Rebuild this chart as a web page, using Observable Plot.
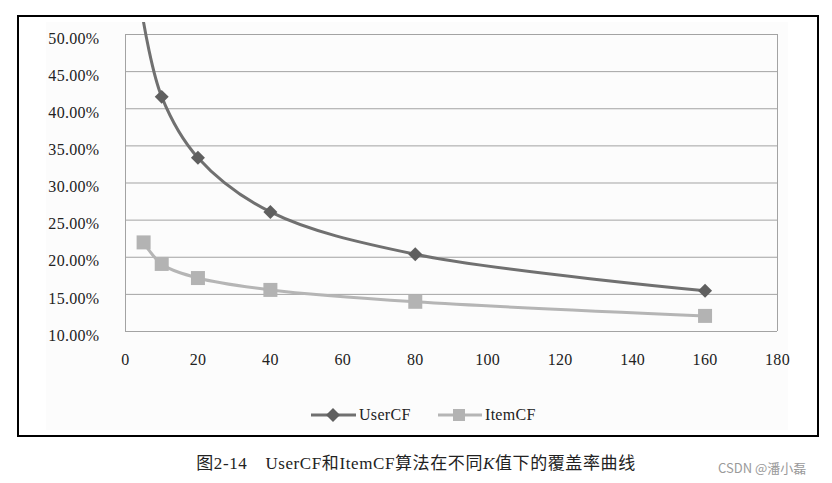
<!DOCTYPE html>
<html><head><meta charset="utf-8">
<script src="https://cdn.jsdelivr.net/npm/d3@7"></script>
<script src="https://cdn.jsdelivr.net/npm/@observablehq/plot@0.6"></script>
<style>
body{margin:0;background:#fff;width:832px;height:483px;position:relative;overflow:hidden;font-family:"Liberation Serif","Times New Roman",serif;}
#frame{position:absolute;left:17px;top:15px;width:798px;height:418px;border:2px solid #000;}
#area{position:absolute;left:46px;top:22px;width:742px;height:408px;background:#fcfcfc;}
#chart{position:absolute;left:0;top:0;width:770px;}
#chart svg{display:block;overflow:hidden;max-width:none !important;width:770px;height:363px;}
#legend{position:absolute;left:0;top:363px;width:742px;height:45px;font-size:16px;color:#222;}
.lg{position:absolute;top:19px;display:flex;align-items:center;height:22px;letter-spacing:0.3px;}
#caption{position:absolute;left:0;width:832px;top:449px;text-align:center;font-size:17px;letter-spacing:0.6px;color:#222;font-family:"Liberation Serif","Noto Sans CJK SC",serif;}
#wm{position:absolute;left:718px;top:458px;font-family:"Noto Sans CJK SC","DejaVu Sans",sans-serif;font-size:13px;color:#9a9a9a;}
</style></head>
<body>
<div id="frame"></div>
<div id="area">
<div id="legend">
 <div class="lg" style="left:265px"><svg width="46" height="22"><line x1="0" x2="45" y1="11" y2="11" stroke="#707070" stroke-width="3"/><path d="M22,4L29,11L22,18L15,11Z" fill="#5f5f5f"/></svg><span style="margin-left:2px">UserCF</span></div>
 <div class="lg" style="left:392px"><svg width="46" height="22"><line x1="0" x2="44" y1="11" y2="11" stroke="#b5b5b5" stroke-width="3"/><rect x="15" y="5" width="12" height="12" fill="#b3b3b3"/></svg><span style="margin-left:1px">ItemCF</span></div>
</div>
<div id="chart"></div>
</div>
<div id="caption">图2-14<span style="display:inline-block;width:18px"></span>UserCF和ItemCF算法在不同<i>K</i>值下的覆盖率曲线</div>
<div id="wm">CSDN @潘小磊</div>
<script>
const kValues = [5, 10, 20, 40, 80, 160];
const userCF = [0.516, 0.416, 0.334, 0.261, 0.204, 0.155];
const itemCF = [0.220, 0.191, 0.172, 0.156, 0.140, 0.121];
const yTicks = [0.10, 0.15, 0.20, 0.25, 0.30, 0.35, 0.40, 0.45, 0.50];
const xTicks = [0, 20, 40, 60, 80, 100, 120, 140, 160, 180];

const userData = kValues.map((k, i) => ({k, v: userCF[i]}));
const itemData = kValues.map((k, i) => ({k, v: itemCF[i]}));
const inRange = d => d.v <= 0.50;

const plot = Plot.plot({
  width: 770, height: 363,
  marginLeft: 79, marginRight: 39, marginTop: 12, marginBottom: 54,
  style: {fontFamily: '"Liberation Serif","Times New Roman",serif', fontSize: "16px", background: "transparent", color: "#222", overflow: "hidden", letterSpacing: "0.3px"},
  x: {domain: [0, 180], ticks: xTicks, label: null},
  y: {domain: [0.10, 0.50], ticks: yTicks, tickFormat: d3.format(".2%"), label: null},
  marks: [
    Plot.ruleY(yTicks, {stroke: "#a3a3a3", strokeWidth: 1}),
    Plot.ruleX([0, 180], {y1: 0.10, y2: 0.50, stroke: "#a3a3a3", strokeWidth: 1}),
    Plot.axisY({ticks: yTicks, tickFormat: d3.format(".2%"), tickSize: 0, tickPadding: 26, dy: 4, fontSize: 16, label: null}),
    Plot.axisX({ticks: xTicks, tickSize: 0, tickPadding: 22, fontSize: 16, label: null}),
    Plot.line(itemData, {x: "k", y: "v", curve: "catmull-rom", stroke: "#b5b5b5", strokeWidth: 3}),
    Plot.line(userData, {x: "k", y: "v", curve: "catmull-rom", stroke: "#707070", strokeWidth: 3}),
    Plot.dot(itemData, {x: "k", y: "v", symbol: "square", r: 7.9, fill: "#b3b3b3", stroke: "none"}),
    Plot.dot(userData, {filter: inRange, x: "k", y: "v", symbol: "diamond2", r: 6.3, fill: "#5f5f5f", stroke: "none"})
  ]
});
document.getElementById("chart").appendChild(plot);
</script>
</body></html>
